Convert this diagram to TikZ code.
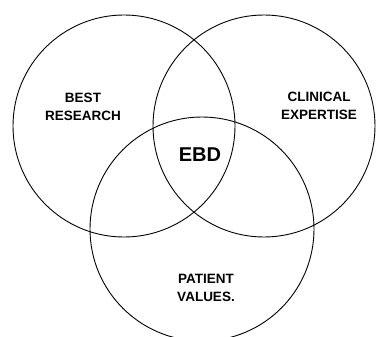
\documentclass[tikz,border=0pt]{standalone}
\usepackage{fontspec}
\usepackage{xcolor}
\usepackage{tikz}
\setmainfont{Liberation Sans}
\definecolor{vnInk}{HTML}{000000}
\usetikzlibrary{calc}

\begin{document}
\begin{tikzpicture}[x=1pt, y=-1pt,
    ring/.style={vnInk, line width=0.9pt},
    lbl/.style={align=center, font=\bfseries\fontsize{13.5}{17.5}\selectfont, inner sep=0pt}]
    \useasboundingbox (0,0) rectangle (380,337);
    \clip (0,0) rectangle (380,337);
    \coordinate (R) at (124,126);
    \coordinate (C) at (264,126);
    \coordinate (P) at (202,229);
    \draw[ring] (R) circle (111);
    \draw[ring] (C) circle (111);
    \draw[ring] (P) circle (112);
    \node[lbl] (research) at (83,107) {BEST\\RESEARCH};
    \node[lbl] (clinical) at (319,106) {CLINICAL\\EXPERTISE};
    \node[lbl] (patient) at (206,288) {PATIENT\\VALUES.};
    \node[lbl, font=\bfseries\fontsize{20}{24}\selectfont] (ebd) at (200,155) {EBD};
\end{tikzpicture}
\end{document}
